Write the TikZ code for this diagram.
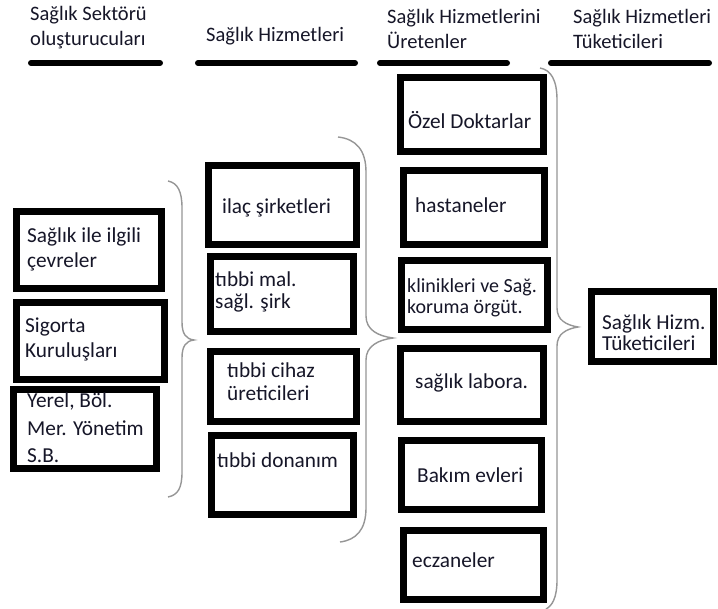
\documentclass[tikz,border=0pt]{standalone}
\usepackage{fontspec}
\setmainfont{Carlito}
\definecolor{txt}{RGB}{22,22,40}
\definecolor{bracegray}{RGB}{150,150,150}
\newcommand\mkbox[5]{\node[box, minimum width={#4-#2-6.5}, minimum height={#5-#3-6.5}] (#1) at ({(#2+#4)/2},{(#3+#5)/2}) {};}
\begin{document}
\begin{tikzpicture}[x=1pt,y=-1pt,
  box/.style={draw=black, line width=6.8pt, fill=white, inner sep=0pt},
  lbl/.style={anchor=west, align=left, inner sep=0pt, text=txt, font=\fontsize{21.3}{25}\selectfont},
  hdr/.style={anchor=west, align=left, inner sep=0pt, text=txt, font=\fontsize{20.5}{25}\selectfont},
  bar/.style={line width=6pt, line cap=round},
  brace/.style={draw=bracegray, line width=1.4pt}]
\useasboundingbox (0,0) rectangle (718,609);
\fill[white] (0,0) rectangle (718,609);

% headers
\node[hdr] (h1) at (30,28) {Sağlık Sektörü\\oluşturucuları};
\node[hdr] (h2) at (206,36) {Sağlık Hizmetleri};
\node[hdr] (h3) at (387,29) {Sağlık Hizmetlerini\\Üretenler};
\node[hdr] (h4) at (573,29) {Sağlık Hizmetleri\\Tüketicileri};

\coordinate (a1) at (31,63); \coordinate (a2) at (160,63);
\coordinate (b1) at (198,63); \coordinate (b2) at (355,63);
\coordinate (c1) at (380,63); \coordinate (c2) at (507,63);
\coordinate (d1) at (551,63); \coordinate (d2) at (709,63);
\draw[bar] (a1) -- (a2);
\draw[bar] (b1) -- (b2);
\draw[bar] (c1) -- (c2);
\draw[bar] (d1) -- (d2);

% braces
\draw[brace] (168,181) .. controls (178,183) and (182,192) .. (182,208) -- (182,322) .. controls (182,334) and (186,339) .. (194,340) .. controls (186,341) and (182,346) .. (182,358) -- (182,472) .. controls (182,488) and (178,495) .. (168,497);
\draw[brace] (338,137) .. controls (356,139) and (366,150) .. (366,172) -- (366,316) .. controls (366,330) and (378,336) .. (393,338) .. controls (378,340) and (366,346) .. (366,360) -- (366,508) .. controls (366,530) and (356,540) .. (340,542);
\draw[brace] (540,68) .. controls (551,70) and (557,80) .. (557,100) -- (557,308) .. controls (557,320) and (566,325) .. (578,327) .. controls (566,329) and (557,334) .. (557,346) -- (557,580) .. controls (557,598) and (552,606) .. (546,609);

% boxes
\mkbox{l1}{13}{208}{165}{292}
\mkbox{l2}{13}{299}{168}{383}
\mkbox{l3}{10}{386}{160}{472}
\mkbox{m1}{205}{162}{360}{248}
\mkbox{m2}{207}{253}{357}{335}
\mkbox{m3}{207}{348}{360}{425}
\mkbox{m4}{208}{432}{357}{518}
\mkbox{r1}{397}{74}{547}{155}
\mkbox{r2}{400}{167}{548}{248}
\mkbox{r3}{398}{257}{551}{333}
\mkbox{r4}{397}{345}{547}{425}
\mkbox{r5}{398}{437}{545}{513}
\mkbox{r6}{400}{527}{547}{603}
\mkbox{k1}{588}{288}{717}{365}

% labels
\node[lbl] (tl1) at (27,249.5) {Sağlık ile ilgili\\çevreler};
\node[lbl] (tl2) at (25,339.5) {Sigorta\\Kuruluşları};
\node[lbl, font=\fontsize{21.3}{27.5}\selectfont] (tl3) at (27,428) {Yerel, Böl.\\Mer. Yönetim\\S.B.};
\node[lbl] (tm1) at (222,208) {ilaç şirketleri};
\node[lbl, font=\fontsize{21.3}{21.5}\selectfont] (tm2) at (215,292) {tıbbi mal.\\sağl. şirk};
\node[lbl, font=\fontsize{21.3}{23}\selectfont] (tm3) at (227,381.5) {tıbbi cihaz\\üreticileri};
\node[lbl] (tm4) at (217,460) {tıbbi donanım};
\node[lbl] (tr1) at (408,120) {Özel Doktarlar};
\node[lbl] (tr2) at (415,205) {hastaneler};
\node[lbl, font=\fontsize{20}{21}\selectfont] (tr3) at (407,297.5) {klinikleri ve Sağ.\\koruma örgüt.};
\node[lbl] (tr4) at (415,383) {sağlık labora.};
\node[lbl] (tr5) at (417,475) {Bakım evleri};
\node[lbl] (tr6) at (412,560) {eczaneler};
\node[lbl, font=\fontsize{21.3}{21.5}\selectfont] (tk1) at (602,332.5) {Sağlık Hizm.\\Tüketicileri};
\end{tikzpicture}
\end{document}
